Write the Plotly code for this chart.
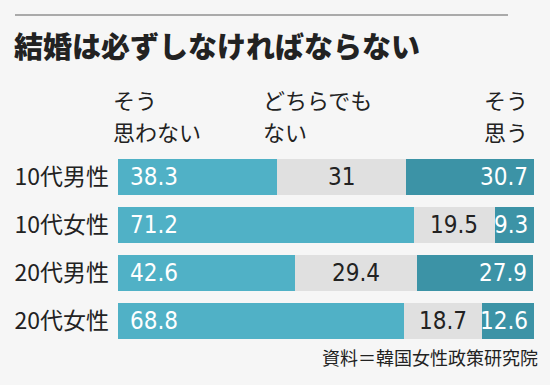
import plotly.graph_objects as go

categories = ["10代男性", "10代女性", "20代男性", "20代女性"]
disagree = [38.3, 71.2, 42.6, 68.8]
neutral = [31, 19.5, 29.4, 18.7]
agree = [30.7, 9.3, 27.9, 12.6]
header_line1 = ["そう", "どちらでも", "そう"]
header_line2 = ["思わない", "ない", "思う"]
title_text = "結婚は必ずしなければならない"
source_text = "資料＝韓国女性政策研究院"

c_light = "#50b1c6"
c_gray = "#e0e0e0"
c_dark = "#3c93a6"
bg = "#f6f6f6"
jp = "Noto Sans CJK JP"
num_font = "DejaVu Sans Condensed, Roboto"

fig = go.Figure()
for vals, col, name in [(disagree, c_light, "そう思わない"),
                        (neutral, c_gray, "どちらでもない"),
                        (agree, c_dark, "そう思う")]:
    fig.add_trace(go.Bar(y=categories, x=vals, orientation="h", marker=dict(color=col, line=dict(width=0)),
                         width=0.73, name=name, showlegend=False, hoverinfo="x+y"))

ann = []
for i, cat in enumerate(categories):
    d, n, a = disagree[i], neutral[i], agree[i]
    ann.append(dict(x=0, y=cat, xref="x", yref="y", text=f"{d}", xanchor="left", xshift=10,
                    showarrow=False, font=dict(family=num_font, size=24, color="white")))
    ann.append(dict(x=d + n / 2, y=cat, xref="x", yref="y", text=f"{n:g}", xanchor="center",
                    showarrow=False, font=dict(family=num_font, size=24, color="#222")))
    ann.append(dict(x=d + n + a, y=cat, xref="x", yref="y", text=f"{a}", xanchor="right", xshift=-4,
                    showarrow=False, font=dict(family=num_font, size=24, color="white")))

# headers
for xpx, l1, l2 in zip([111, 261, 482], header_line1, header_line2):
    ann.append(dict(x=xpx / 550, y=1 - 99 / 385, xref="paper", yref="paper", text=l1,
                    xanchor="left", yanchor="middle", showarrow=False,
                    font=dict(family=jp, size=22, color="#222")))
    ann.append(dict(x=xpx / 550, y=1 - 131 / 385, xref="paper", yref="paper", text=l2,
                    xanchor="left", yanchor="middle", showarrow=False,
                    font=dict(family=jp, size=22, color="#222")))
ann.append(dict(x=12 / 550, y=1 - 45 / 385, xref="paper", yref="paper", text=title_text,
                xanchor="left", yanchor="middle", showarrow=False,
                font=dict(family=jp, size=29, color="#222", weight=900)))
ann.append(dict(x=540 / 550, y=1 - 357 / 385, xref="paper", yref="paper", text=source_text,
                xanchor="right", yanchor="middle", showarrow=False,
                font=dict(family=jp, size=18, color="#222")))

fig.update_layout(
    width=550, height=385, margin=dict(l=0, r=0, t=0, b=0),
    paper_bgcolor=bg, plot_bgcolor=bg, barmode="stack", bargap=0,
    annotations=ann,
    shapes=[dict(type="line", xref="paper", yref="paper", x0=15 / 550, x1=508 / 550,
                 y0=1 - 15 / 385, y1=1 - 15 / 385, line=dict(color="#aaaaaa", width=2))],
    xaxis=dict(domain=[118 / 550, 534 / 550], range=[0, 100.1], visible=False, fixedrange=True,
               automargin=False),
    yaxis=dict(domain=[1 - 345 / 385, 1 - 153 / 385], autorange="reversed", showgrid=False,
               zeroline=False, showline=False, ticks="", ticklabelstandoff=8, automargin=False,
               tickfont=dict(family=jp, size=23, color="#222"), fixedrange=True),
)
fig.write_html("out.html", config={"displayModeBar": False},
               post_script="document.body.style.margin='0';document.body.style.background='%s';" % bg)
